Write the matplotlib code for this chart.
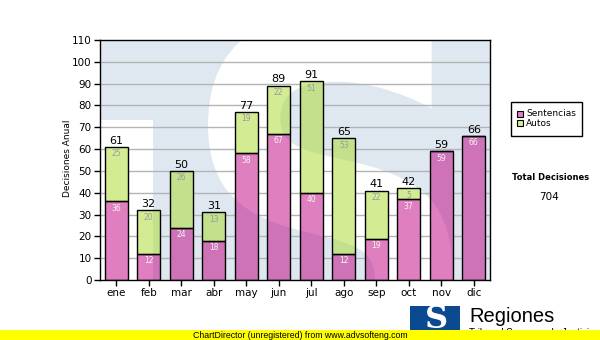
import matplotlib.pyplot as plt
from matplotlib.patches import Rectangle, PathPatch
from matplotlib.path import Path
from matplotlib.textpath import TextPath
from matplotlib.font_manager import FontProperties
from matplotlib.transforms import Affine2D

meses = ['ene', 'feb', 'mar', 'abr', 'may', 'jun', 'jul', 'ago', 'sep', 'oct', 'nov', 'dic']
sentencias = [36, 12, 24, 18, 58, 67, 40, 12, 19, 37, 59, 66]
autos = [25, 20, 26, 13, 19, 22, 51, 53, 22, 5, 0, 0]
y_ticks = list(range(0, 111, 10))

totales = [s + a for s, a in zip(sentencias, autos)]
total_decisiones = sum(totales)

W, H = 600, 340
BAR_W = 0.72


def fx(px):
    return px / W


def fy(py):
    return 1 - py / H


fig = plt.figure(figsize=(6, 3.4), dpi=100)
fig.patch.set_facecolor('white')
ax = fig.add_axes([fx(100), fy(280), 390 / W, 240 / H])
ax.set_xlim(-0.5, len(meses) - 0.5)
ax.set_ylim(0, 110)

# big pale "S" used as watermark (axes fraction coords)
sp = TextPath((0, 0), 'S', size=1, prop=FontProperties(family='DejaVu Sans', weight='bold'))
ext = sp.get_extents()
x0, x1 = (208 - 100) / 390, (452 - 100) / 390
y0, y1 = (280 - 385) / 240, (280 - 15) / 240
tr = Affine2D().translate(-ext.x0, -ext.y0).scale((x1 - x0) / ext.width, (y1 - y0) / ext.height).translate(x0, y0)
s_path = tr.transform_path(sp)


def watermark(z, clip=None):
    parts = [Rectangle((0, 0), 1, 1, facecolor='#dfe8f1'),
             Rectangle((0, 0), 53 / 390, 160 / 240, facecolor='white'),
             PathPatch(s_path, facecolor='white')]
    for p in parts:
        p.set_transform(ax.transAxes)
        p.set_edgecolor('none')
        p.set_zorder(z)
        ax.add_patch(p)
        if clip is not None:
            p.set_clip_path(clip, ax.transData)


ax.patch.set_visible(False)
watermark(0)
for v in y_ticks[1:-1]:
    ax.axhline(v, color='#b4b4b4', linewidth=1, zorder=1)

x = list(range(len(meses)))

# the watermark shows through the bars, the grid does not
verts, codes = [], []
for i in x:
    l, r = i - BAR_W / 2, i + BAR_W / 2
    verts += [(l, 0), (r, 0), (r, totales[i]), (l, totales[i]), (l, 0)]
    codes += [Path.MOVETO, Path.LINETO, Path.LINETO, Path.LINETO, Path.CLOSEPOLY]
watermark(2, Path(verts, codes))

rosa = (193 / 255, 0, 129 / 255, 0.5)
verde = (169 / 255, 217 / 255, 41 / 255, 0.5)
ax.bar(x, sentencias, width=BAR_W, facecolor=rosa, edgecolor='black', linewidth=1, zorder=3)
ax.bar(x, autos, width=BAR_W, bottom=sentencias, facecolor=verde, edgecolor='black', linewidth=1, zorder=3)

for i in x:
    if sentencias[i]:
        ax.annotate(str(sentencias[i]), (i, sentencias[i]), xytext=(0, -5), textcoords='offset points',
                    ha='center', va='center', fontsize=5.5, color='#f4f4f4', zorder=4)
    if autos[i]:
        ax.annotate(str(autos[i]), (i, totales[i]), xytext=(0, -5), textcoords='offset points',
                    ha='center', va='center', fontsize=5.5, color='#9a9a9a', zorder=4)
    ax.annotate(str(totales[i]), (i, totales[i]), xytext=(0, 1), textcoords='offset points',
                ha='center', va='bottom', fontsize=8, color='black', zorder=4)

ax.set_yticks(y_ticks)
ax.set_xticks(x)
ax.set_xticklabels(meses)
ax.tick_params(axis='both', labelsize=7.5, length=4, width=1, direction='out', pad=2)
for pos in ['left', 'bottom', 'top', 'right']:
    ax.spines[pos].set_linewidth(1)
    ax.spines[pos].set_zorder(5)

fig.text(fx(67), fy(158), 'Decisiones Anual', rotation=90, ha='center', va='center', fontsize=6.5)

# legend box
fig.patches.append(Rectangle((fx(511), fy(136)), 71 / W, 34 / H, transform=fig.transFigure,
                             facecolor='white', edgecolor='black', linewidth=1))
for k, (nombre, col) in enumerate([('Sentencias', rosa), ('Autos', verde)]):
    yc = 114 + 9 * k
    fig.patches.append(Rectangle((fx(517), fy(yc + 3)), 6 / W, 6 / H, transform=fig.transFigure,
                                 facecolor=col, edgecolor='black', linewidth=0.8))
    fig.text(fx(526), fy(yc), nombre, ha='left', va='center', fontsize=6.5)

fig.text(fx(551), fy(177), 'Total Decisiones', ha='center', va='center', fontsize=6, fontweight='bold')
fig.text(fx(549), fy(197), str(total_decisiones), ha='center', va='center', fontsize=7.5)

# logo and footer banner
fig.patches.append(Rectangle((fx(410), fy(332)), 50 / W, 26 / H, transform=fig.transFigure,
                             facecolor='#0b4a90', edgecolor='none', zorder=1))
fig.text(fx(436), fy(319), 'S', ha='center', va='center', fontsize=23, fontweight='bold',
         family='DejaVu Serif', color='white', zorder=2)
fig.text(fx(469), fy(316), 'Regiones', ha='left', va='center', fontsize=14.5,
         family='Liberation Sans', zorder=2)
fig.text(fx(469), fy(328.5), 'Tribunal Supremo de Justicia', ha='left', va='top', fontsize=7,
         family='Liberation Sans', zorder=2)
fig.patches.append(Rectangle((0, 0), 1, 10 / H, transform=fig.transFigure,
                             facecolor='#ffff00', edgecolor='none', zorder=3))
fig.text(0.5, fy(335), 'ChartDirector (unregistered) from www.advsofteng.com', ha='center', va='center',
         fontsize=6.3, family='Liberation Sans', zorder=4)

fig.savefig('out.png', dpi=100)
